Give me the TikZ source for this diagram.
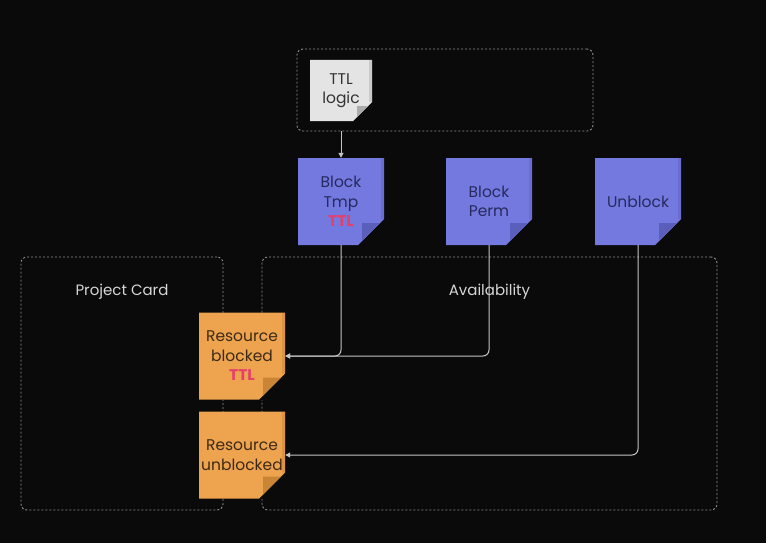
\documentclass[tikz,border=0pt]{standalone}
\usepackage{fontspec}
\setmainfont{Poppins}
\usetikzlibrary{arrows.meta,calc}
\definecolor{bg}{HTML}{0A0A0A}
\definecolor{framec}{HTML}{8E8E8E}
\definecolor{connc}{HTML}{C4C4C4}
\definecolor{labelc}{HTML}{D6D6D6}
\definecolor{grayf}{HTML}{E4E4E4}
\definecolor{grayd}{HTML}{ABABAB}
\definecolor{grayt}{HTML}{333333}
\definecolor{bluef}{HTML}{7479E0}
\definecolor{blued}{HTML}{5A5FBC}
\definecolor{bluet}{HTML}{272A5C}
\definecolor{orf}{HTML}{EEA34E}
\definecolor{ord}{HTML}{C98436}
\definecolor{ort}{HTML}{3D2A16}
\definecolor{ttlred}{HTML}{E5406B}
\tikzset{
  frame/.style={draw=framec, line width=0.9pt, dash pattern=on 2pt off 2pt, rounded corners=6pt, inner sep=0pt},
  lbl/.style={text=labelc, font=\fontsize{15}{18}\selectfont},
  conn/.style={draw=connc, line width=1pt, rounded corners=6pt, -{Triangle[length=5pt,width=5pt]}},
  note/.style n args={4}{fill=bg, inner sep=0pt, align=center, text=#3,
    font=\fontsize{15.5}{19.5}\selectfont,
    path picture={
      \fill[#1] (path picture bounding box.north west) -- (path picture bounding box.north east)
        -- ([yshift=#4]path picture bounding box.south east)
        -- ([xshift=-#4]path picture bounding box.south east)
        -- (path picture bounding box.south west) -- cycle;
      \fill[#2, opacity=0.45] ([xshift=-3pt]path picture bounding box.north east) rectangle ([yshift=#4]path picture bounding box.south east);
      \fill[#2] ([xshift=-#4+4pt,yshift=#4-4pt]path picture bounding box.south east)
        -- ([xshift=-4pt,yshift=#4-4pt]path picture bounding box.south east)
        -- ([xshift=-#4+4pt,yshift=4pt]path picture bounding box.south east) -- cycle;
    }},
  bignote/.style={minimum width=86pt, minimum height=87pt},
}
\begin{document}
\begin{tikzpicture}[x=1pt,y=-1pt]
\useasboundingbox[fill=bg] (0,0) rectangle (766,543);
% frames
\node[frame, minimum width=296pt, minimum height=82pt] (tf) at (445,90) {};
\node[frame, minimum width=202pt, minimum height=253pt] (pc) at (122,383.5) {};
\node[frame, minimum width=455pt, minimum height=253pt] (av) at (489.5,383.5) {};
\node[lbl] (pcl) at (122,292) {Project Card};
\node[lbl] (avl) at (489.5,292) {Availability};
% notes
\node[note={grayf}{grayd}{grayt}{19pt}, minimum width=62pt, minimum height=61pt] (tl) at (341,90.5) {TTL\\logic};
\node[note={bluef}{blued}{bluet}{26pt}, bignote] (bt) at (341,201.5) {Block\\Tmp\\{\color{ttlred}\bfseries TTL}};
\node[note={bluef}{blued}{bluet}{26pt}, bignote] (bp) at (489,201.5) {Block\\Perm};
\node[note={bluef}{blued}{bluet}{26pt}, bignote] (ub) at (638,201.5) {Unblock};
\node[note={orf}{ord}{ort}{26pt}, bignote] (rb) at (242,356) {Resource\\blocked\\{\color{ttlred}\bfseries TTL}};
\node[note={orf}{ord}{ort}{26pt}, bignote] (ru) at (242,455) {Resource\\unblocked};
% connectors
\draw[conn] (tf.south -| bt.north) -- (bt.north);
\draw[conn] (bt.south) |- (rb.east);
\draw[conn] (bp.south) |- (rb.east);
\draw[conn] (ub.south) |- (ru.east);
\end{tikzpicture}
\end{document}
